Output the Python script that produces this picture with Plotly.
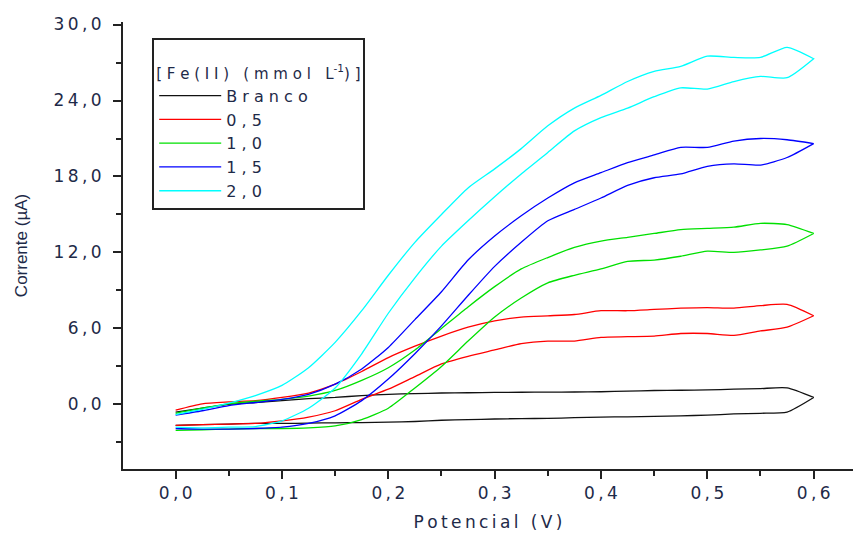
import plotly.graph_objects as go

# Potential grid (V)
potential = [0.0, 0.025, 0.05, 0.075, 0.1, 0.125, 0.15, 0.175, 0.2, 0.225, 0.25, 0.275,
             0.3, 0.325, 0.35, 0.375, 0.4, 0.425, 0.45, 0.475, 0.5, 0.525, 0.55, 0.575, 0.6]

series_names = ["Branco", "0,5", "1,0", "1,5", "2,0"]
series_colors = ["#111111", "#ff0000", "#00e000", "#0000ff", "#00ffff"]

# Current (uA) – upper branch and lower branch, on the same potential grid
branco_upper = [-0.6, -0.3, 0.0, 0.15, 0.3, 0.45, 0.55, 0.7, 0.8, 0.85, 0.9, 0.92,
                0.95, 0.96, 0.97, 0.98, 1.0, 1.05, 1.1, 1.12, 1.15, 1.2, 1.25, 1.3, 0.55]
branco_lower = [-1.65, -1.6, -1.55, -1.5, -1.5, -1.48, -1.45, -1.43, -1.4, -1.35, -1.25, -1.2,
                -1.15, -1.12, -1.1, -1.05, -1.0, -0.98, -0.95, -0.9, -0.85, -0.75, -0.7, -0.6, 0.55]

c05_upper = [-0.45, 0.05, 0.2, 0.3, 0.55, 0.9, 1.6, 2.6, 3.7, 4.6, 5.4, 6.1,
             6.6, 6.9, 7.0, 7.1, 7.4, 7.4, 7.5, 7.6, 7.65, 7.6, 7.8, 7.9, 7.0]
c05_lower = [-1.65, -1.6, -1.55, -1.5, -1.3, -1.0, -0.5, 0.4, 1.2, 2.2, 3.2, 3.8,
             4.3, 4.8, 5.0, 5.0, 5.3, 5.35, 5.4, 5.6, 5.6, 5.45, 5.8, 6.1, 7.0]

c10_upper = [-0.7, -0.3, 0.05, 0.25, 0.4, 0.65, 1.1, 1.9, 2.9, 4.3, 6.0, 7.7,
             9.3, 10.7, 11.6, 12.4, 12.9, 13.2, 13.5, 13.8, 13.9, 14.0, 14.3, 14.2, 13.5]
c10_lower = [-2.05, -2.0, -1.95, -1.9, -1.9, -1.85, -1.7, -1.2, -0.3, 1.3, 3.0, 5.0,
             6.9, 8.4, 9.6, 10.2, 10.7, 11.3, 11.4, 11.7, 12.1, 12.0, 12.2, 12.5, 13.5]

c15_upper = [-0.85, -0.5, -0.1, 0.15, 0.4, 0.8, 1.6, 2.8, 4.5, 6.7, 8.9, 11.4,
             13.3, 14.9, 16.3, 17.5, 18.3, 19.1, 19.7, 20.3, 20.3, 20.8, 21.0, 20.9, 20.6]
c15_lower = [-1.9, -1.95, -1.95, -1.9, -1.8, -1.5, -0.9, 0.3, 2.0, 4.0, 6.2, 8.6,
             10.9, 12.8, 14.5, 15.4, 16.3, 17.3, 17.9, 18.2, 18.8, 19.0, 18.9, 19.5, 20.6]

c20_upper = [-0.8, -0.4, 0.1, 0.7, 1.5, 2.9, 4.9, 7.4, 10.2, 12.8, 15.0, 17.1,
             18.6, 20.2, 22.0, 23.4, 24.4, 25.5, 26.3, 26.7, 27.5, 27.4, 27.4, 28.2, 27.3]
c20_lower = [-1.8, -1.85, -1.8, -1.75, -1.3, -0.3, 1.3, 4.0, 7.2, 10.0, 12.5, 14.5,
             16.4, 18.2, 19.9, 21.6, 22.65, 23.4, 24.3, 25.0, 24.9, 25.5, 25.9, 25.8, 27.3]

uppers = [branco_upper, c05_upper, c10_upper, c15_upper, c20_upper]
lowers = [branco_lower, c05_lower, c10_lower, c15_lower, c20_lower]

x_ticks = [0.0, 0.1, 0.2, 0.3, 0.4, 0.5, 0.6]
x_tick_labels = ["0,0", "0,1", "0,2", "0,3", "0,4", "0,5", "0,6"]
y_ticks = [0, 6, 12, 18, 24, 30]
y_tick_labels = ["0,0", "6,0", "12,0", "18,0", "24,0", "30,0"]

THIN = "\u2009"
NBSP = "\u00a0"


def spaced(s, sep):
    return sep.join(NBSP if ch == " " else ch for ch in s)


FONT = "DejaVu Sans, Liberation Sans, Arial, sans-serif"
TXT = "#1e2a48"

fig = go.Figure()
for name, color, up, lo in zip(series_names, series_colors, uppers, lowers):
    xs = potential + potential[::-1]
    ys = up + lo[::-1]
    fig.add_trace(go.Scatter(x=xs, y=ys, mode="lines", name=spaced(name, NBSP),
                             line=dict(color=color, width=1.3, shape="spline", smoothing=0.6)))

tick_font = dict(family=FONT, size=17, color=TXT)
legend_title = ("<br>" + spaced("[Fe(II) (mmol L", NBSP) + "<sup>-1</sup>" + spaced(")]", NBSP))

fig.update_layout(
    width=853, height=538,
    margin=dict(l=123, r=0, t=22, b=69),
    paper_bgcolor="white", plot_bgcolor="white",
    showlegend=True,
    legend=dict(
        x=0.04, y=0.965, xanchor="left", yanchor="top",
        bordercolor="#222222", borderwidth=2, bgcolor="white",
        font=dict(family=FONT, size=16, color=TXT),
        title=dict(text=legend_title, font=dict(family=FONT, size=15, color=TXT)),
        itemwidth=62, tracegroupgap=0,
    ),
    xaxis=dict(
        range=[-0.0495, 0.637], tickvals=x_ticks,
        ticktext=[spaced(t, THIN) for t in x_tick_labels],
        showline=True, linecolor="#222222", linewidth=2, mirror=False,
        ticks="outside", ticklen=8, tickwidth=2, tickcolor="#222222",
        minor=dict(dtick=0.05, tick0=0, ticks="outside", ticklen=5, tickwidth=2, tickcolor="#222222"),
        showgrid=False, zeroline=False, tickfont=tick_font, ticklabelstandoff=0,
        title=dict(text=spaced("Potencial (V)", THIN), font=tick_font, standoff=14),
    ),
    yaxis=dict(
        range=[-5.1, 30.2], tickvals=y_ticks,
        ticktext=[spaced(t, THIN) for t in y_tick_labels],
        showline=True, linecolor="#222222", linewidth=2, mirror=False,
        ticks="outside", ticklen=8, tickwidth=2, tickcolor="#222222",
        minor=dict(dtick=3, tick0=0, ticks="outside", ticklen=5, tickwidth=2, tickcolor="#222222"),
        showgrid=False, zeroline=False, tickfont=tick_font, ticklabelstandoff=8,
        title=dict(text="Corrente (µA)",
                   font=dict(family="Liberation Sans Narrow, Liberation Sans, Arial, sans-serif",
                             size=17, color=TXT), standoff=22),
    ),
)

fig.write_html("out.html")
